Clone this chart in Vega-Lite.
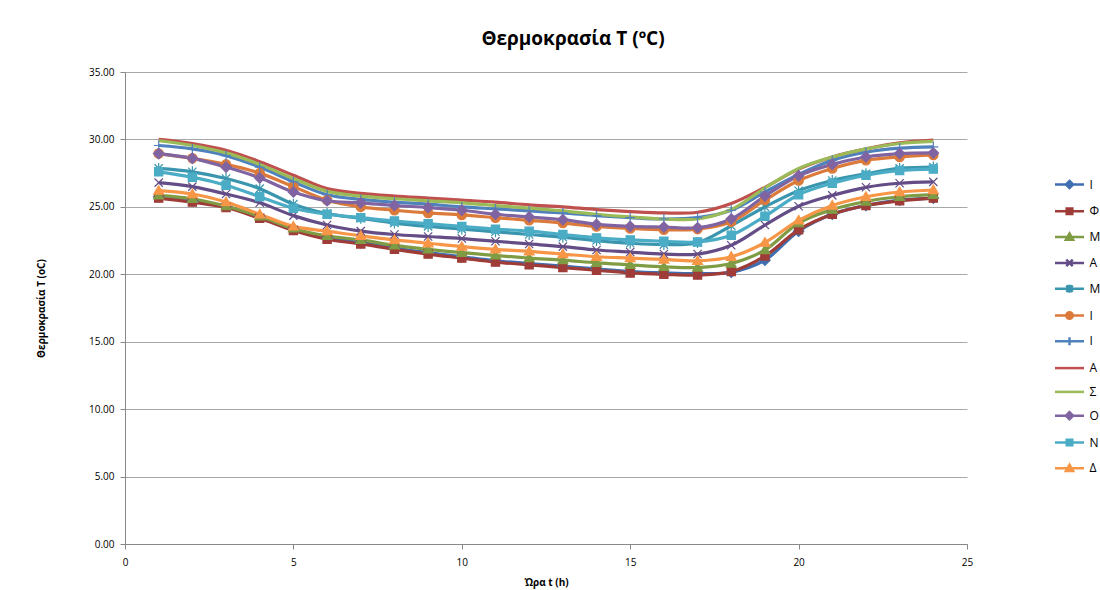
{
  "$schema": "https://vega.github.io/schema/vega-lite/v6.json",
  "autosize": "none",
  "width": 842,
  "height": 472,
  "padding": {"left": 125, "top": 72, "right": 133, "bottom": 46},
  "background": "white",
  "config": {
    "font": "Open Sans",
    "view": {"stroke": null},
    "axis": {"labelColor": "#000000", "titleColor": "#000000", "labelFontSize": 10, "titleFontSize": 10, "titleFontWeight": "bold", "domainColor": "#888888", "tickColor": "#888888", "tickSize": 5}
  },
  "title": {"text": "Θερμοκρασία T (ºC)", "fontSize": 19, "fontWeight": "bold", "color": "#000000", "offset": 18, "dx": 27},
  "datasets": {
    "temps": [
      {"m":"01","h":1,"t":25.75},{"m":"01","h":2,"t":25.45},{"m":"01","h":3,"t":25.05},{"m":"01","h":4,"t":24.25},{"m":"01","h":5,"t":23.35},{"m":"01","h":6,"t":22.7},{"m":"01","h":7,"t":22.35},{"m":"01","h":8,"t":21.95},{"m":"01","h":9,"t":21.6},{"m":"01","h":10,"t":21.3},{"m":"01","h":11,"t":21.0},{"m":"01","h":12,"t":20.8},{"m":"01","h":13,"t":20.6},{"m":"01","h":14,"t":20.4},{"m":"01","h":15,"t":20.2},{"m":"01","h":16,"t":20.1},{"m":"01","h":17,"t":20.05},{"m":"01","h":18,"t":20.15},{"m":"01","h":19,"t":21.05},{"m":"01","h":20,"t":23.2},{"m":"01","h":21,"t":24.45},{"m":"01","h":22,"t":25.1},{"m":"01","h":23,"t":25.5},{"m":"01","h":24,"t":25.65},
      {"m":"02","h":1,"t":25.65},{"m":"02","h":2,"t":25.35},{"m":"02","h":3,"t":24.95},{"m":"02","h":4,"t":24.15},{"m":"02","h":5,"t":23.25},{"m":"02","h":6,"t":22.6},{"m":"02","h":7,"t":22.25},{"m":"02","h":8,"t":21.85},{"m":"02","h":9,"t":21.5},{"m":"02","h":10,"t":21.2},{"m":"02","h":11,"t":20.9},{"m":"02","h":12,"t":20.7},{"m":"02","h":13,"t":20.5},{"m":"02","h":14,"t":20.3},{"m":"02","h":15,"t":20.1},{"m":"02","h":16,"t":20.0},{"m":"02","h":17,"t":19.95},{"m":"02","h":18,"t":20.2},{"m":"02","h":19,"t":21.35},{"m":"02","h":20,"t":23.3},{"m":"02","h":21,"t":24.45},{"m":"02","h":22,"t":25.1},{"m":"02","h":23,"t":25.45},{"m":"02","h":24,"t":25.65},
      {"m":"03","h":1,"t":25.85},{"m":"03","h":2,"t":25.6},{"m":"03","h":3,"t":25.05},{"m":"03","h":4,"t":24.3},{"m":"03","h":5,"t":23.4},{"m":"03","h":6,"t":22.85},{"m":"03","h":7,"t":22.55},{"m":"03","h":8,"t":22.15},{"m":"03","h":9,"t":21.85},{"m":"03","h":10,"t":21.6},{"m":"03","h":11,"t":21.4},{"m":"03","h":12,"t":21.2},{"m":"03","h":13,"t":21.05},{"m":"03","h":14,"t":20.85},{"m":"03","h":15,"t":20.7},{"m":"03","h":16,"t":20.55},{"m":"03","h":17,"t":20.5},{"m":"03","h":18,"t":20.8},{"m":"03","h":19,"t":21.8},{"m":"03","h":20,"t":23.8},{"m":"03","h":21,"t":24.8},{"m":"03","h":22,"t":25.4},{"m":"03","h":23,"t":25.75},{"m":"03","h":24,"t":25.9},
      {"m":"04","h":1,"t":26.8},{"m":"04","h":2,"t":26.5},{"m":"04","h":3,"t":25.95},{"m":"04","h":4,"t":25.3},{"m":"04","h":5,"t":24.35},{"m":"04","h":6,"t":23.65},{"m":"04","h":7,"t":23.2},{"m":"04","h":8,"t":22.95},{"m":"04","h":9,"t":22.8},{"m":"04","h":10,"t":22.65},{"m":"04","h":11,"t":22.45},{"m":"04","h":12,"t":22.25},{"m":"04","h":13,"t":22.05},{"m":"04","h":14,"t":21.8},{"m":"04","h":15,"t":21.65},{"m":"04","h":16,"t":21.5},{"m":"04","h":17,"t":21.5},{"m":"04","h":18,"t":22.15},{"m":"04","h":19,"t":23.65},{"m":"04","h":20,"t":25.05},{"m":"04","h":21,"t":25.85},{"m":"04","h":22,"t":26.45},{"m":"04","h":23,"t":26.75},{"m":"04","h":24,"t":26.85},
      {"m":"05","h":1,"t":27.85},{"m":"05","h":2,"t":27.6},{"m":"05","h":3,"t":27.1},{"m":"05","h":4,"t":26.35},{"m":"05","h":5,"t":25.2},{"m":"05","h":6,"t":24.5},{"m":"05","h":7,"t":24.15},{"m":"05","h":8,"t":23.8},{"m":"05","h":9,"t":23.55},{"m":"05","h":10,"t":23.35},{"m":"05","h":11,"t":23.15},{"m":"05","h":12,"t":22.95},{"m":"05","h":13,"t":22.75},{"m":"05","h":14,"t":22.5},{"m":"05","h":15,"t":22.3},{"m":"05","h":16,"t":22.2},{"m":"05","h":17,"t":22.35},{"m":"05","h":18,"t":23.6},{"m":"05","h":19,"t":25.0},{"m":"05","h":20,"t":26.2},{"m":"05","h":21,"t":26.95},{"m":"05","h":22,"t":27.45},{"m":"05","h":23,"t":27.85},{"m":"05","h":24,"t":27.95},
      {"m":"06","h":1,"t":28.95},{"m":"06","h":2,"t":28.6},{"m":"06","h":3,"t":28.15},{"m":"06","h":4,"t":27.5},{"m":"06","h":5,"t":26.5},{"m":"06","h":6,"t":25.5},{"m":"06","h":7,"t":25.0},{"m":"06","h":8,"t":24.75},{"m":"06","h":9,"t":24.55},{"m":"06","h":10,"t":24.4},{"m":"06","h":11,"t":24.2},{"m":"06","h":12,"t":24.0},{"m":"06","h":13,"t":23.8},{"m":"06","h":14,"t":23.55},{"m":"06","h":15,"t":23.4},{"m":"06","h":16,"t":23.3},{"m":"06","h":17,"t":23.35},{"m":"06","h":18,"t":23.9},{"m":"06","h":19,"t":25.5},{"m":"06","h":20,"t":26.95},{"m":"06","h":21,"t":27.85},{"m":"06","h":22,"t":28.45},{"m":"06","h":23,"t":28.7},{"m":"06","h":24,"t":28.85},
      {"m":"07","h":1,"t":29.55},{"m":"07","h":2,"t":29.3},{"m":"07","h":3,"t":28.8},{"m":"07","h":4,"t":27.95},{"m":"07","h":5,"t":26.85},{"m":"07","h":6,"t":25.9},{"m":"07","h":7,"t":25.55},{"m":"07","h":8,"t":25.35},{"m":"07","h":9,"t":25.2},{"m":"07","h":10,"t":25.0},{"m":"07","h":11,"t":24.85},{"m":"07","h":12,"t":24.7},{"m":"07","h":13,"t":24.55},{"m":"07","h":14,"t":24.35},{"m":"07","h":15,"t":24.2},{"m":"07","h":16,"t":24.1},{"m":"07","h":17,"t":24.2},{"m":"07","h":18,"t":24.75},{"m":"07","h":19,"t":26.1},{"m":"07","h":20,"t":27.4},{"m":"07","h":21,"t":28.45},{"m":"07","h":22,"t":29.05},{"m":"07","h":23,"t":29.35},{"m":"07","h":24,"t":29.45},
      {"m":"08","h":1,"t":30.0},{"m":"08","h":2,"t":29.7},{"m":"08","h":3,"t":29.2},{"m":"08","h":4,"t":28.35},{"m":"08","h":5,"t":27.35},{"m":"08","h":6,"t":26.35},{"m":"08","h":7,"t":26.0},{"m":"08","h":8,"t":25.8},{"m":"08","h":9,"t":25.65},{"m":"08","h":10,"t":25.5},{"m":"08","h":11,"t":25.35},{"m":"08","h":12,"t":25.15},{"m":"08","h":13,"t":25.0},{"m":"08","h":14,"t":24.8},{"m":"08","h":15,"t":24.65},{"m":"08","h":16,"t":24.55},{"m":"08","h":17,"t":24.6},{"m":"08","h":18,"t":25.25},{"m":"08","h":19,"t":26.45},{"m":"08","h":20,"t":27.8},{"m":"08","h":21,"t":28.7},{"m":"08","h":22,"t":29.3},{"m":"08","h":23,"t":29.75},{"m":"08","h":24,"t":29.95},
      {"m":"09","h":1,"t":29.9},{"m":"09","h":2,"t":29.55},{"m":"09","h":3,"t":29.0},{"m":"09","h":4,"t":28.15},{"m":"09","h":5,"t":27.1},{"m":"09","h":6,"t":26.15},{"m":"09","h":7,"t":25.8},{"m":"09","h":8,"t":25.6},{"m":"09","h":9,"t":25.45},{"m":"09","h":10,"t":25.3},{"m":"09","h":11,"t":25.1},{"m":"09","h":12,"t":24.9},{"m":"09","h":13,"t":24.7},{"m":"09","h":14,"t":24.45},{"m":"09","h":15,"t":24.25},{"m":"09","h":16,"t":24.1},{"m":"09","h":17,"t":24.1},{"m":"09","h":18,"t":24.8},{"m":"09","h":19,"t":26.4},{"m":"09","h":20,"t":27.85},{"m":"09","h":21,"t":28.7},{"m":"09","h":22,"t":29.3},{"m":"09","h":23,"t":29.7},{"m":"09","h":24,"t":29.85},
      {"m":"10","h":1,"t":28.95},{"m":"10","h":2,"t":28.6},{"m":"10","h":3,"t":27.95},{"m":"10","h":4,"t":27.15},{"m":"10","h":5,"t":26.1},{"m":"10","h":6,"t":25.45},{"m":"10","h":7,"t":25.3},{"m":"10","h":8,"t":25.1},{"m":"10","h":9,"t":24.95},{"m":"10","h":10,"t":24.75},{"m":"10","h":11,"t":24.45},{"m":"10","h":12,"t":24.25},{"m":"10","h":13,"t":24.05},{"m":"10","h":14,"t":23.7},{"m":"10","h":15,"t":23.55},{"m":"10","h":16,"t":23.5},{"m":"10","h":17,"t":23.45},{"m":"10","h":18,"t":24.1},{"m":"10","h":19,"t":25.8},{"m":"10","h":20,"t":27.3},{"m":"10","h":21,"t":28.15},{"m":"10","h":22,"t":28.7},{"m":"10","h":23,"t":28.95},{"m":"10","h":24,"t":29.0},
      {"m":"11","h":1,"t":27.6},{"m":"11","h":2,"t":27.2},{"m":"11","h":3,"t":26.6},{"m":"11","h":4,"t":25.75},{"m":"11","h":5,"t":24.9},{"m":"11","h":6,"t":24.45},{"m":"11","h":7,"t":24.2},{"m":"11","h":8,"t":23.95},{"m":"11","h":9,"t":23.75},{"m":"11","h":10,"t":23.55},{"m":"11","h":11,"t":23.35},{"m":"11","h":12,"t":23.2},{"m":"11","h":13,"t":22.95},{"m":"11","h":14,"t":22.7},{"m":"11","h":15,"t":22.55},{"m":"11","h":16,"t":22.45},{"m":"11","h":17,"t":22.4},{"m":"11","h":18,"t":22.9},{"m":"11","h":19,"t":24.3},{"m":"11","h":20,"t":25.9},{"m":"11","h":21,"t":26.75},{"m":"11","h":22,"t":27.35},{"m":"11","h":23,"t":27.7},{"m":"11","h":24,"t":27.8},
      {"m":"12","h":1,"t":26.2},{"m":"12","h":2,"t":25.95},{"m":"12","h":3,"t":25.35},{"m":"12","h":4,"t":24.45},{"m":"12","h":5,"t":23.55},{"m":"12","h":6,"t":23.2},{"m":"12","h":7,"t":22.85},{"m":"12","h":8,"t":22.55},{"m":"12","h":9,"t":22.3},{"m":"12","h":10,"t":22.05},{"m":"12","h":11,"t":21.85},{"m":"12","h":12,"t":21.7},{"m":"12","h":13,"t":21.5},{"m":"12","h":14,"t":21.3},{"m":"12","h":15,"t":21.2},{"m":"12","h":16,"t":21.1},{"m":"12","h":17,"t":21.0},{"m":"12","h":18,"t":21.3},{"m":"12","h":19,"t":22.35},{"m":"12","h":20,"t":24.0},{"m":"12","h":21,"t":25.1},{"m":"12","h":22,"t":25.75},{"m":"12","h":23,"t":26.1},{"m":"12","h":24,"t":26.25}
    ]
  },
  "data": {"name": "temps"},
  "encoding": {
    "x": {"field": "h", "type": "quantitative", "title": "Ώρα t (h)",
      "scale": {"domain": [0, 25], "nice": false},
      "axis": {"values": [0, 5, 10, 15, 20, 25], "grid": false, "labelPadding": 8, "titlePadding": 10, "labelFlush": false}},
    "y": {"field": "t", "type": "quantitative", "title": "Θερμοκρασία T (oC)",
      "scale": {"domain": [0, 35], "nice": false},
      "axis": {"values": [0, 5, 10, 15, 20, 25, 30, 35], "format": ".2f", "grid": true, "gridColor": "#A8A8A8", "labelPadding": 6, "titlePadding": 42, "labelFlush": false}}
  },
  "layer": [
    {
      "mark": {"type": "line", "interpolate": "catmull-rom", "strokeWidth": 3.2},
      "encoding": {
        "color": {"field": "m", "type": "nominal", "legend": null,
          "scale": {"domain": ["01","02","03","04","05","06","07","08","09","10","11","12"],
            "range": ["#3F6FB0","#A03C38","#7F9C45","#644D86","#3A96AE","#DB7A3A","#4F81BD","#C0504D","#9BBB59","#8064A2","#4BACC6","#F79646"]}}
      }
    },
    {
      "transform": [{"filter": "datum.m != '08' && datum.m != '09'"}],
      "mark": {"type": "point", "filled": true, "size": 121, "strokeWidth": 1.2, "opacity": 1},
      "encoding": {
        "color": {"field": "m", "type": "nominal", "legend": null},
        "stroke": {"field": "m", "type": "nominal", "legend": null,
          "scale": {"domain": ["01","02","03","04","05","06","07","08","09","10","11","12"],
            "range": ["#3F6FB0","#A03C38","#7F9C45","#644D86","#3A96AE","#DB7A3A","#4F81BD","#C0504D","#9BBB59","#8064A2","#4BACC6","#F79646"]}},
        "shape": {"field": "m", "type": "nominal", "legend": null,
          "scale": {"domain": ["01","02","03","04","05","06","07","08","09","10","11","12"],
            "range": [
              "M0,-0.95L0.95,0L0,0.95L-0.95,0Z",
              "M-0.75,-0.75L0.75,-0.75L0.75,0.75L-0.75,0.75Z",
              "M0,-0.9L0.9,0.65L-0.9,0.65Z",
              "M-0.75,-0.75L0.75,0.75M-0.75,0.75L0.75,-0.75",
              "M-0.75,-0.75L0.75,0.75M-0.75,0.75L0.75,-0.75M0,-1L0,1",
              "M-0.85,0A0.85,0.85 0 1,0 0.85,0A0.85,0.85 0 1,0 -0.85,0Z",
              "M-0.9,0L0.9,0M0,-0.9L0,0.9",
              "M0,0",
              "M0,0",
              "M0,-0.95L0.95,0L0,0.95L-0.95,0Z",
              "M-0.75,-0.75L0.75,-0.75L0.75,0.75L-0.75,0.75Z",
              "M0,-0.9L0.9,0.65L-0.9,0.65Z"
            ]}}
      }
    },
    {
      "transform": [{"filter": "datum.h == 1"}],
      "mark": {"type": "point", "filled": true, "size": 400, "strokeWidth": 2.5, "opacity": 0},
      "encoding": {
        "color": {"field": "m", "type": "nominal"},
        "stroke": {"field": "m", "type": "nominal"},
        "shape": {"field": "m", "type": "nominal",
          "scale": {"domain": ["01","02","03","04","05","06","07","08","09","10","11","12"],
            "range": [
              "M-1.45,0L1.45,0M0,-0.36L0.36,0L0,0.36L-0.36,0Z",
              "M-1.45,0L1.45,0M-0.28,-0.28L0.28,-0.28L0.28,0.28L-0.28,0.28Z",
              "M-1.45,0L1.45,0M0,-0.36L0.36,0.26L-0.36,0.26Z",
              "M-1.45,0L1.45,0M-0.32,-0.32L0.32,0.32M-0.32,0.32L0.32,-0.32",
              "M-1.45,0L1.45,0M-0.32,-0.32L0.32,0.32M-0.32,0.32L0.32,-0.32M0,-0.4L0,0.4",
              "M-1.45,0L1.45,0M-0.32,0A0.32,0.32 0 1,0 0.32,0A0.32,0.32 0 1,0 -0.32,0Z",
              "M-1.45,0L1.45,0M0,-0.4L0,0.4",
              "M-1.45,0L1.45,0",
              "M-1.45,0L1.45,0",
              "M-1.45,0L1.45,0M0,-0.36L0.36,0L0,0.36L-0.36,0Z",
              "M-1.45,0L1.45,0M-0.28,-0.28L0.28,-0.28L0.28,0.28L-0.28,0.28Z",
              "M-1.45,0L1.45,0M0,-0.36L0.36,0.26L-0.36,0.26Z"
            ]},
          "legend": {"title": null, "orient": "none", "legendX": 933, "legendY": 101, "padding": 0,
            "rowPadding": 5.8, "symbolSize": 400, "symbolStrokeWidth": 2.5, "symbolOpacity": 1,
            "labelFontSize": 12, "labelColor": "#000000", "labelOffset": 8.5,
            "labelExpr": "['Ι','Φ','Μ','Α','Μ','Ι','Ι','Α','Σ','Ο','Ν','Δ'][toNumber(datum.value)-1]"}}
      }
    }
  ],
  "resolve": {"scale": {"shape": "independent"}, "legend": {"color": "independent", "stroke": "independent", "shape": "independent"}}
}
